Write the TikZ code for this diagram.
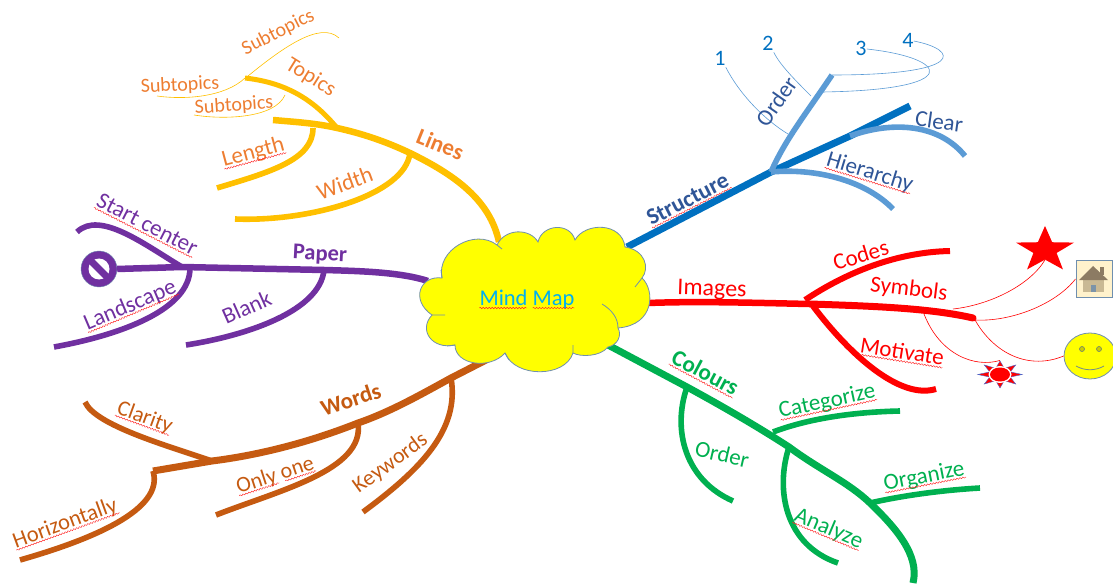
\documentclass[tikz,border=0pt]{standalone}
\usepackage{fontspec}
\setmainfont{Carlito}
\usepackage{tikz}
\usetikzlibrary{shapes.geometric,decorations.pathmorphing,calc}
\definecolor{linesc}{HTML}{FFC000}
\definecolor{linestxt}{HTML}{ED7D31}
\definecolor{paperc}{HTML}{7030A0}
\definecolor{structc}{HTML}{0070C0}
\definecolor{structl}{HTML}{5B9BD5}
\definecolor{structtxt}{HTML}{2F5597}
\definecolor{colourc}{HTML}{00B050}
\definecolor{wordc}{HTML}{C55A11}
\definecolor{edgec}{HTML}{6F8FAF}
\definecolor{cloudc}{HTML}{FFFF00}
\definecolor{mapc}{HTML}{00B0F0}
\definecolor{redc}{HTML}{FF0000}
\definecolor{boxc}{HTML}{FFF2CC}
\definecolor{roofc}{HTML}{8C7B63}
\definecolor{wallc}{HTML}{C9B994}
\definecolor{doorc}{HTML}{7B93A8}
\tikzset{
  lbl/.style={inner sep=0pt,text depth=.2em,font=\fontsize{#1}{24}\selectfont},
  lbl/.default=22,
  boldlbl/.style={inner sep=0pt,text depth=.2em,font=\fontsize{#1}{24}\selectfont\bfseries},
  squiggle/.style={draw=redc!85,line width=.45pt,decorate,decoration={snake,amplitude=.7pt,segment length=3pt}},
  branch/.style={line width=5.6pt},
  twig/.style={line width=.6pt}
}
\begin{document}
\begin{tikzpicture}[x=1pt,y=-1pt]
\useasboundingbox (0,0) rectangle (1113,585);

\coordinate (linesroot) at (499,242);
\coordinate (lineswidth) at (410,153);
\coordinate (linesfork) at (337,128);
\coordinate (linesend) at (273,120);
\coordinate (lineslength) at (313,128);
\coordinate (topicsend) at (245,78);
\coordinate (lengthend) at (217,188);
\coordinate (widthend) at (235,219);
\coordinate (subafrom) at (248,76);
\coordinate (subaend) at (339,38);
\coordinate (subbend) at (157,96);
\coordinate (subcfrom) at (285,95);
\coordinate (subcend) at (194,115);
\draw[linesc,line width=6.5pt] (linesroot) .. controls (490,200) and (455,175) .. (lineswidth)
  .. controls (385,141) and (360,133) .. (linesfork) .. controls (315,123) and (295,122) .. (linesend);
\draw[linesc,line width=5pt] (linesfork) .. controls (310,95) and (280,82) .. (topicsend);
\draw[linesc,branch] (lineslength) .. controls (313,160) and (270,172) .. (lengthend);
\draw[linesc,branch] (lineswidth) .. controls (405,195) and (310,222) .. (widthend);
\draw[linesc,twig] (subafrom) .. controls (280,50) and (320,20) .. (subaend);
\draw[linesc,twig] (topicsend) .. controls (225,97) and (185,100) .. (subbend);
\draw[linesc,twig] (subcfrom) .. controls (275,118) and (225,120) .. (subcend);

\coordinate (paperroot) at (428,281);
\coordinate (paperblank) at (324,270);
\coordinate (paperstart) at (182,267);
\coordinate (paperland) at (190,268);
\coordinate (startend) at (77,232);
\coordinate (landend) at (54,347);
\coordinate (blankend) at (186,345);
\node[circle,fill=paperc,draw=edgec,minimum size=36pt,inner sep=0pt] (nosign) at (99,269) {};
\fill[white] (nosign) circle (10.5);
\draw[paperc,line width=7pt] ($(nosign)+(-10,-10)$) -- ($(nosign)+(10,10)$);
\draw[paperc,line width=6.5pt] (paperroot) .. controls (400,272) and (360,271) .. (paperblank) -- (paperstart) -- (nosign.east);
\draw[paperc,branch] (paperstart) .. controls (145,245) and (100,210) .. (startend);
\draw[paperc,branch] (paperland) .. controls (190,310) and (120,335) .. (landend);
\draw[paperc,branch] (paperblank) .. controls (320,310) and (250,335) .. (blankend);

\coordinate (structroot) at (627,247);
\coordinate (structfork) at (771,172);
\coordinate (structclear) at (850,136);
\coordinate (structend) at (910,106);
\coordinate (orderend) at (832,75);
\coordinate (hierend) at (893,209);
\coordinate (clearend) at (965,156);
\draw[structc,line width=7pt] (structroot) -- (structfork) -- (structclear) -- (structend);
\draw[structl,branch] (structfork) .. controls (785,140) and (805,115) .. (orderend);
\draw[structl,branch] (structfork) .. controls (815,168) and (865,180) .. (hierend);
\draw[structl,branch] (structclear) .. controls (895,120) and (940,125) .. (clearend);

\node[lbl,text=structc] (one) at (720,59) {1};
\node[lbl,text=structc] (two) at (768,44) {2};
\node[lbl,text=structc] (three) at (861,49) {3};
\node[lbl,text=structc] (four) at (908,41) {4};
\coordinate (onefoot) at (788,134);
\coordinate (twofoot) at (811,96);
\coordinate (threefoot) at (822,92);
\draw[structl,twig] (one.south east) .. controls (740,95) and (765,120) .. (onefoot);
\draw[structl,twig] (two.south east) .. controls (780,65) and (795,80) .. (twofoot);
\draw[structl,twig] (three.east) .. controls (950,58) and (965,90) .. (threefoot);
\draw[structl,twig] (four.east) .. controls (960,50) and (965,75) .. (orderend);

\coordinate (imgroot) at (648,303);
\coordinate (imgmid) at (810,304);
\coordinate (imgend) at (973,318);
\coordinate (codesfrom) at (805,300);
\coordinate (codesend) at (950,251);
\coordinate (motivfrom) at (813,306);
\coordinate (motivend) at (936,389);
\coordinate (imgstar) at (953,309);
\coordinate (imgsun) at (924,314);
\coordinate (imgtip) at (975,320);
\draw[redc,line width=6.5pt] (imgroot) .. controls (700,301) and (760,303) .. (imgmid);
\draw[redc,line width=7pt,line cap=round] (imgmid) .. controls (870,306) and (930,308) .. (imgend);
\draw[redc,line width=6pt] (codesfrom) .. controls (850,270) and (900,252) .. (codesend);
\draw[redc,line width=6pt] (motivfrom) .. controls (850,355) and (900,400) .. (motivend);

\node[star,star points=5,star point ratio=2.5,fill=redc,inner sep=0pt,minimum size=48pt,xscale=1.27,transform shape] (redstar) at (1045,250) {};
\node[rectangle,draw=edgec,fill=boxc,line width=1pt,minimum size=36pt,inner sep=0pt] (housebox) at (1094,279) {};
\fill[roofc] (1100,267) rectangle (1104,275);
\fill[wallc] (1083,279) rectangle (1104,292);
\fill[roofc] (1093,266) -- (1108,280) -- (1079,280) -- cycle;
\fill[doorc] (1091,285) rectangle (1096,292);
\node[ellipse,draw=edgec,fill=cloudc,line width=.8pt,minimum width=52pt,minimum height=46pt,inner sep=0pt] (smile) at (1090,356) {};
\foreach \ex in {1082,1099} \draw[edgec!60!olive,fill=cloudc!60!olive,line width=.7pt] (\ex,349) circle (2.5);
\draw[edgec!80!olive,line width=.8pt] (1076,366) .. controls (1085,371) and (1095,371) .. (1104,366);
\node[star,star points=8,star point ratio=2,draw=edgec!70!blue,fill=redc,inner sep=0pt,minimum size=27pt,xscale=1.65,transform shape] (sun) at (1000,374.5) {};
\fill[white] (sun.center) ellipse (11.5 and 8.5);
\fill[redc] (sun.center) ellipse (10 and 7);
\draw[redc,twig] (imgstar) .. controls (990,305) and (1030,285) .. (redstar.south);
\draw[redc,twig] (imgtip) .. controls (1010,322) and (1055,305) .. (housebox.west);
\draw[redc,twig] (imgtip) .. controls (995,355) and (1030,370) .. (smile.west);
\draw[redc,twig] (imgsun) .. controls (940,355) and (975,368) .. (sun.north);

\coordinate (colroot) at (608,345);
\coordinate (colorder) at (687,387);
\coordinate (colcateg) at (773,432);
\coordinate (colanal) at (789,447);
\coordinate (colorg) at (870,503);
\coordinate (colend) at (913,583);
\coordinate (orderbend) at (733,501);
\coordinate (categend) at (900,411);
\coordinate (analend) at (838,563);
\coordinate (orgend) at (980,488);
\draw[colourc,line width=7pt] (colroot) -- (colorder) .. controls (720,405) and (755,425) .. (colanal)
  .. controls (820,470) and (848,482) .. (colorg) .. controls (895,527) and (920,555) .. (colend);
\draw[colourc,branch] (colorder) .. controls (672,430) and (685,480) .. (orderbend);
\draw[colourc,branch] (colcateg) .. controls (810,418) and (855,412) .. (categend);
\draw[colourc,branch] (colanal) .. controls (775,490) and (785,545) .. (analend);
\draw[colourc,branch] (colorg) .. controls (905,495) and (945,490) .. (orgend);

\coordinate (wordroot) at (490,358);
\coordinate (wordkey) at (451,378);
\coordinate (wordonly) at (358,423);
\coordinate (wordclar) at (212,461);
\coordinate (wordend) at (153,471);
\coordinate (clarend) at (85,402);
\coordinate (horizend) at (20,560);
\coordinate (onlyend) at (216,515);
\coordinate (keyend) at (363,512);
\draw[wordc,line width=7pt] (wordroot) -- (wordkey) .. controls (420,395) and (390,412) .. (wordonly)
  .. controls (310,442) and (260,455) .. (wordclar) -- (wordend);
\draw[wordc,branch] (wordclar) .. controls (165,445) and (95,425) .. (clarend);
\draw[wordc,branch] (wordend) .. controls (165,510) and (90,540) .. (horizend);
\draw[wordc,branch] (wordonly) .. controls (365,470) and (280,490) .. (onlyend);
\draw[wordc,branch] (wordkey) .. controls (460,430) and (420,470) .. (keyend);

\draw[edgec,fill=cloudc,line width=.8pt] (442,278) .. controls (436,250) and (475,228) .. (497,245)
  .. controls (505,228) and (530,228) .. (538,242) .. controls (542,224) and (570,222) .. (575,240)
  .. controls (585,222) and (622,222) .. (625,247) .. controls (645,250) and (650,268) .. (642,278)
  .. controls (655,290) and (655,325) .. (618,328) .. controls (622,335) and (618,345) .. (608,347)
  .. controls (600,357) and (580,357) .. (573,353) .. controls (565,378) and (515,378) .. (505,353)
  .. controls (490,370) and (455,365) .. (455,345) .. controls (432,350) and (418,330) .. (432,315)
  .. controls (410,300) and (420,275) .. (442,278) -- cycle;
\draw[edgec,line width=.8pt] (497,245) -- (502,249) (642,278) -- (635,287) (618,328) .. controls (618,318) and (612,310) .. (602,304)
  (573,353) -- (573,345) (505,353) -- (509,360) (455,345) -- (447,346) (432,315) -- (445,315) (442,278) -- (441,270);

\node[lbl=22.5,text=mapc] (mindmap) at (527,299) {Mind Map};

\node[lbl=20,text=linestxt,rotate=27] (subtopa) at (278,32) {Subtopics};
\node[lbl=20,text=linestxt,rotate=3] (subtopb) at (180,85) {Subtopics};
\node[lbl=20,text=linestxt,rotate=4] (subtopc) at (234,105) {Subtopics};
\node[lbl=22,text=linestxt,rotate=-32] (topics) at (311,77) {Topics};
\node[boldlbl=23,text=linestxt,rotate=-22] (lines) at (440,145) {Lines};
\node[lbl=23,text=linestxt,rotate=15] (lengthl) at (253,152) {Length};
\node[lbl=23,text=linestxt,rotate=20] (widthl) at (345,184) {Width};

\node[boldlbl=22.5,text=paperc,rotate=-3] (paper) at (320,254) {Paper};
\node[lbl=23,text=paperc,rotate=-27] (startc) at (147,225) {Start center};
\node[lbl=23,text=paperc,rotate=23] (landscape) at (130,305) {Landscape};
\node[lbl=23,text=paperc,rotate=24] (blank) at (247,308) {Blank};

\node[boldlbl=23,text=structtxt,rotate=27] (structure) at (688,200) {Structure};
\node[lbl=23,text=structtxt,rotate=55] (orderl) at (777,102) {Order};
\node[lbl=23,text=structtxt,rotate=-17] (hierarchy) at (870,172) {Hierarchy};
\node[lbl=23,text=structtxt,rotate=-8] (clear) at (939,122) {Clear};

\node[lbl=24,text=redc,rotate=-2] (images) at (712,289) {Images};
\node[lbl=23,text=redc,rotate=17] (codes) at (861,256) {Codes};
\node[lbl=23,text=redc,rotate=-7] (symbols) at (909,289) {Symbols};
\node[lbl=23,text=redc,rotate=-9] (motivate) at (902,352) {Motivate};

\node[boldlbl=23,text=colourc,rotate=-28] (colours) at (705,373) {Colours};
\node[lbl=23,text=colourc,rotate=-13] (ordergreen) at (722,455) {Order};
\node[lbl=23,text=colourc,rotate=12] (categorize) at (827,401) {Categorize};
\node[lbl=23,text=colourc,rotate=11] (organize) at (924,476) {Organize};
\node[lbl=23,text=colourc,rotate=-23] (analyze) at (829,528) {Analyze};

\node[boldlbl=23,text=wordc,rotate=18] (words) at (351,400) {Words};
\node[lbl=22,text=wordc,rotate=-20] (clarity) at (145,417) {Clarity};
\node[lbl=22,text=wordc,rotate=18] (onlyone) at (275,475) {Only one};
\node[lbl=22,text=wordc,rotate=36] (keywords) at (390,463) {Keywords};
\node[lbl=22.5,text=wordc,rotate=20] (horizontally) at (65,523) {Horizontally};

\foreach \n in {lengthl,startc,landscape,structure,hierarchy,motivate,colours,categorize,organize,analyze,clarity,horizontally}
  \draw[squiggle] (\n.south west) -- (\n.south east);
\draw[squiggle] (mindmap.south west) -- ($(mindmap.south west)!.5!(mindmap.south east)$);
\draw[squiggle] ($(mindmap.south west)!.56!(mindmap.south east)$) -- (mindmap.south east);
\draw[squiggle] (onlyone.south west) -- ($(onlyone.south west)!.52!(onlyone.south east)$);
\draw[squiggle] ($(onlyone.south west)!.6!(onlyone.south east)$) -- (onlyone.south east);
\end{tikzpicture}
\end{document}
